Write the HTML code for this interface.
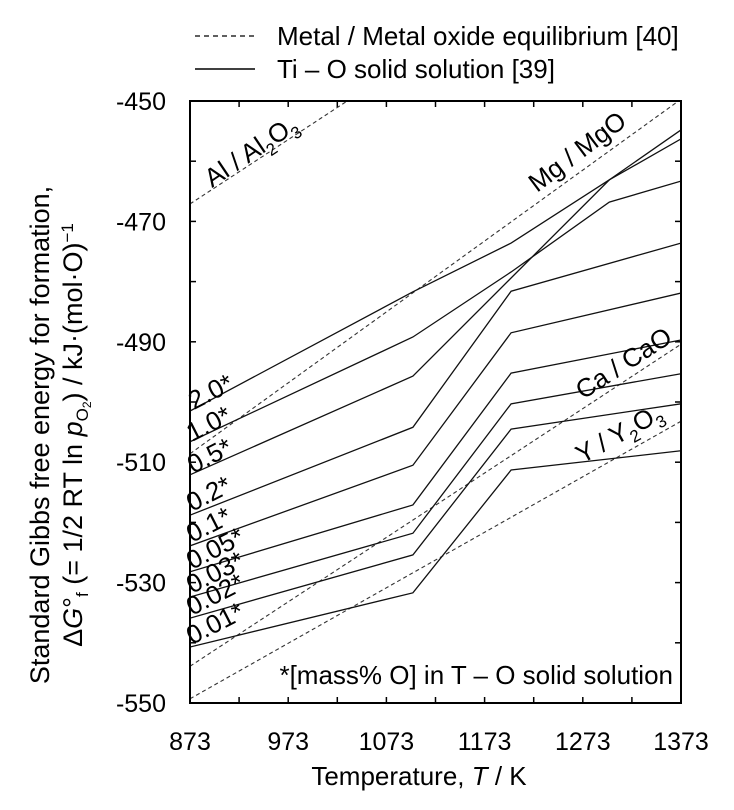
<!DOCTYPE html>
<html><head><meta charset="utf-8"><style>
html,body{margin:0;padding:0;background:#fff;}
svg{display:block;font-family:"Liberation Sans",Arial,sans-serif;}
</style></head><body>
<svg id="chart" width="734" height="810" viewBox="0 0 734 810" xmlns="http://www.w3.org/2000/svg">
<defs><clipPath id="plotclip"><rect x="190" y="101" width="491" height="602"/></clipPath></defs>
<g>
  <line x1="195" y1="36" x2="255" y2="36" stroke="#000" stroke-width="1.3" stroke-dasharray="5,4"/>
  <text x="277" y="45" font-size="26">Metal / Metal oxide equilibrium [40]</text>
  <line x1="195" y1="69" x2="255" y2="69" stroke="#000" stroke-width="1.5"/>
  <text x="277" y="78" font-size="26">Ti – O solid solution [39]</text>
</g>
<g id="axes"></g>
<g id="marks" clip-path="url(#plotclip)"></g>
<rect x="190" y="101" width="491" height="602" fill="none" stroke="#000" stroke-width="2"/>
<g font-size="26">
  <text transform="translate(212,188) rotate(-34)">Al / Al<tspan font-size="17" dy="7">2</tspan><tspan dy="-7">O</tspan><tspan font-size="17" dy="7">3</tspan></text>
  <text transform="translate(537,193) rotate(-37)">Mg / MgO</text>
  <text transform="translate(583,400) rotate(-33)">Ca / CaO</text>
  <text transform="translate(582,464) rotate(-29)">Y / Y<tspan font-size="17" dy="7">2</tspan><tspan dy="-7">O</tspan><tspan font-size="17" dy="7">3</tspan></text>
  <text transform="translate(194,410) rotate(-27)">2.0*</text>
  <text transform="translate(192,442) rotate(-27)">1.0*</text>
  <text transform="translate(193,474) rotate(-27)">0.5*</text>
  <text transform="translate(192,512) rotate(-27)">0.2*</text>
  <text transform="translate(192,543) rotate(-27)">0.1*</text>
  <text transform="translate(192,570) rotate(-27)">0.05*</text>
  <text transform="translate(192,594) rotate(-27)">0.03*</text>
  <text transform="translate(192,616) rotate(-27)">0.02*</text>
  <text transform="translate(192,645) rotate(-27)">0.01*</text>
</g>
<text x="673" y="684" font-size="26" text-anchor="end">*[mass% O] in T – O solid solution</text>
<text x="419" y="785" font-size="26" text-anchor="middle">Temperature, <tspan font-style="italic">T</tspan> / K</text>
<g font-size="27" text-anchor="middle">
  <text transform="translate(49,435) rotate(-90)">Standard Gibbs free energy for formation,</text>
  <text transform="translate(82,435) rotate(-90)">Δ<tspan font-style="italic">G</tspan>°<tspan font-size="17" dy="6">f</tspan><tspan dy="-6"> (= 1/2 RT ln </tspan><tspan font-style="italic">p</tspan><tspan font-size="17" dy="6">O</tspan><tspan font-size="12" dy="3">2</tspan><tspan dy="-9">) / kJ·(mol·O)</tspan><tspan font-size="17" dy="-9">−1</tspan></text>
</g>
</svg>
<script>
const tempTicks = [873, 973, 1073, 1173, 1273, 1373];
const energyTicks = [-450, -470, -490, -510, -530, -550];
const oxideNames = ["Al/Al2O3", "Mg/MgO", "Ca/CaO", "Y/Y2O3"];
const oxideT = [[873, 1373], [873, 1373], [873, 1373], [873, 1373]];
const oxideG = [[-467.1, -413.7], [-508.6, -449.7], [-543.9, -490.4], [-549.3, -503.2]];
const solNames = ["2.0", "1.0", "0.5", "0.2", "0.1", "0.05", "0.03", "0.02", "0.01"];
const solT = [
  [873, 1100, 1200, 1300, 1373],
  [873, 1100, 1200, 1300, 1373],
  [873, 1100, 1300, 1373],
  [873, 1100, 1200, 1373],
  [873, 1100, 1200, 1373],
  [873, 1100, 1200, 1373],
  [873, 1100, 1200, 1373],
  [873, 1100, 1200, 1373],
  [873, 1100, 1200, 1373]
];
const solG = [
  [-501.5, -481.7, -473.6, -463.1, -456.3],
  [-506.6, -489.2, -478.4, -466.8, -463.3],
  [-512.1, -495.7, -463.1, -454.8],
  [-518.8, -504.2, -481.6, -473.6],
  [-523.9, -510.5, -488.5, -481.9],
  [-528.2, -517.1, -495.2, -489.7],
  [-532.4, -521.8, -500.3, -495.3],
  [-535.9, -525.4, -504.5, -500.3],
  [-540.7, -531.7, -511.3, -508.1]
];
const NS = "http://www.w3.org/2000/svg";
const X0 = 190, X1 = 681, Y0 = 101, Y1 = 703;
function xs(t) { return X0 + (t - 873) / 500 * (X1 - X0); }
function ys(g) { return Y0 + (-450 - g) / 100 * (Y1 - Y0); }
const axes = document.getElementById('axes');
const marks = document.getElementById('marks');
function mk(tag, attrs, parent) {
  const e = document.createElementNS(NS, tag);
  for (const k in attrs) e.setAttribute(k, attrs[k]);
  parent.appendChild(e);
  return e;
}
for (let t = 873; t <= 1373; t += 50) {
  const x = xs(t);
  const a = mk('line', {x1: x, y1: Y1, x2: x, y2: Y1 - 6, stroke: '#000', 'stroke-width': 1.5}, axes);
  
  
  const b = mk('line', {x1: x, y1: Y0, x2: x, y2: Y0 + 6, stroke: '#000', 'stroke-width': 1.5}, axes);
  
  
}
for (let g = -450; g >= -550; g -= 10) {
  const y = ys(g);
  const a = mk('line', {x1: X0, y1: y, x2: X0 + 6, y2: y, stroke: '#000', 'stroke-width': 1.5}, axes);
  
  
  const b = mk('line', {x1: X1, y1: y, x2: X1 - 6, y2: y, stroke: '#000', 'stroke-width': 1.5}, axes);
  
  
}
tempTicks.forEach(t => {
  const e = mk('text', {x: xs(t), y: 750, 'font-size': 25, 'text-anchor': 'middle'}, axes);
  
  
  e.textContent = t;
});
energyTicks.forEach(g => {
  const e = mk('text', {x: 166, y: ys(g) + 9, 'font-size': 25, 'text-anchor': 'end'}, axes);
  
  
  e.textContent = g;
});
oxideNames.forEach((n, i) => {
  const pts = oxideT[i].map((t, j) => xs(t) + ',' + ys(oxideG[i][j])).join(' ');
  const e = mk('polyline', {points: pts, fill: 'none', stroke: '#333', 'stroke-width': 1.1, 'stroke-dasharray': '4,3'}, marks);
  
  
});
solNames.forEach((n, i) => {
  const pts = solT[i].map((t, j) => xs(t) + ',' + ys(solG[i][j])).join(' ');
  const e = mk('polyline', {points: pts, fill: 'none', stroke: '#111', 'stroke-width': 1.3}, marks);
  
  
});
</script>
</body></html>
